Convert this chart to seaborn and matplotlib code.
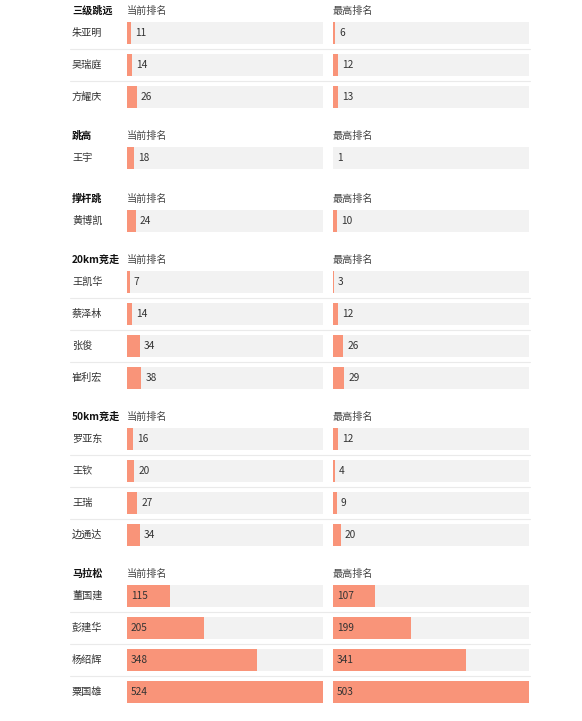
import matplotlib
matplotlib.use("Agg")
import matplotlib.pyplot as plt
import matplotlib.transforms as mtrans
from matplotlib.lines import Line2D
import seaborn as sns
import pandas as pd

sns.set_theme(style="white")
plt.rcParams['font.family'] = ['Noto Sans CJK SC', 'DejaVu Sans']

# ---------------- data ----------------
events = ["三级跳远", "跳高", "撑杆跳", "20km竞走", "50km竞走", "马拉松"]
athletes = [
    ["朱亚明", "吴瑞庭", "方耀庆"],
    ["王宇"],
    ["黄博凯"],
    ["王凯华", "蔡泽林", "张俊", "崔利宏"],
    ["罗亚东", "王钦", "王瑞", "边通达"],
    ["董国建", "彭建华", "杨绍辉", "粟国雄"],
]
current_rank = [
    [11, 14, 26],
    [18],
    [24],
    [7, 14, 34, 38],
    [16, 20, 27, 34],
    [115, 205, 348, 524],
]
best_rank = [
    [6, 12, 13],
    [1],
    [10],
    [3, 12, 26, 29],
    [12, 4, 9, 20],
    [107, 199, 341, 503],
]
col_titles = ["当前排名", "最高排名"]

# ---------------- layout (pixels) ----------------
W, H = 582, 721
fig = plt.figure(figsize=(W / 100, H / 100), dpi=100)
fig.patch.set_facecolor("white")

first_row_y = [33, 158, 221, 282, 439, 596]
row_step = 32
bar_h_px = 22
name_x = 72
col_x = [127, 333]
col_w = 196
sep_x0, sep_x1 = 70, 530
fs = 7.3

bar_color = "#F99479"
track_color = "#F2F2F2"
text_color = "#333333"

series = [current_rank, best_rank]
col_max = [max(max(g) for g in s) for s in series]


def fx(px):
    return px / W


def fy(py):
    return 1 - py / H


for gi, ev in enumerate(events):
    names = athletes[gi]
    n = len(names)
    y0 = first_row_y[gi]
    top = y0 - row_step / 2
    bottom = y0 + (n - 1) * row_step + row_step / 2
    header_y = y0 - 22

    fig.text(fx(name_x), fy(header_y), ev, ha="left", va="center",
             fontsize=fs, fontweight="bold", color="#111111")

    for ci in range(2):
        vals = series[ci][gi]
        df = pd.DataFrame({"name": names, "value": vals,
                           "track": [col_max[ci]] * n})
        ax = fig.add_axes([fx(col_x[ci]), fy(bottom), fx(col_w),
                           (bottom - top) / H])
        sns.barplot(data=df, x="track", y="name", orient="h", ax=ax,
                    color=track_color, width=bar_h_px / row_step,
                    saturation=1, edgecolor="none")
        sns.barplot(data=df, x="value", y="name", orient="h", ax=ax,
                    color=bar_color, width=bar_h_px / row_step,
                    saturation=1, edgecolor="none")
        ax.set_xlim(0, col_max[ci])
        ax.set_ylim(n - 0.5, -0.5)
        ax.axis("off")

        px_per_unit = col_w / col_max[ci]
        for i, v in enumerate(vals):
            wpx = v * px_per_unit
            if wpx > 30:
                xt = 4 / px_per_unit
            else:
                xt = v + 4 / px_per_unit
            ax.text(xt, i, str(v), ha="left", va="center", fontsize=fs,
                    color=text_color)

        fig.text(fx(col_x[ci]), fy(header_y), col_titles[ci], ha="left",
                 va="center", fontsize=fs, color="#444444")

        if ci == 0:
            tr = mtrans.blended_transform_factory(fig.transFigure, ax.transData)
            for i, nm in enumerate(names):
                ax.text(fx(name_x), i, nm, transform=tr, ha="left",
                        va="center", fontsize=fs, color=text_color)

    # separators between rows
    for i in range(n - 1):
        yy = y0 + i * row_step + row_step / 2
        fig.add_artist(Line2D([fx(sep_x0), fx(sep_x1)], [fy(yy), fy(yy)],
                              color="#EAEAEA", linewidth=0.8,
                              transform=fig.transFigure))

fig.savefig("out.png", dpi=100, facecolor="white")
